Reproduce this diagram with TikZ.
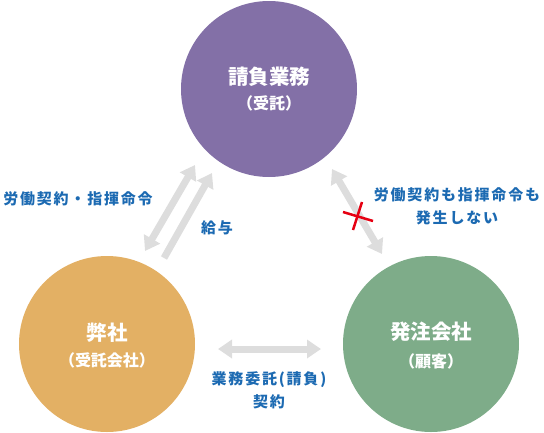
\documentclass[tikz,border=0pt]{standalone}
\usepackage{fontspec}
\setmainfont{Noto Sans CJK JP}
\usetikzlibrary{arrows.meta}
\definecolor{cpurple}{RGB}{131,112,167}
\definecolor{corange}{RGB}{227,176,100}
\definecolor{cgreen}{RGB}{126,172,137}
\definecolor{cblue}{RGB}{28,106,178}
\definecolor{cgray}{RGB}{221,221,221}
\definecolor{cred}{RGB}{230,0,18}
\begin{document}
\begin{tikzpicture}[x=1pt,y=-1pt,
  circ/.style={circle,inner sep=0pt,minimum size=176pt},
  ctitle/.style={text=white,inner sep=0pt,font=\fontsize{20.5}{20}\selectfont\bfseries},
  csub/.style={text=white,inner sep=0pt,font=\fontsize{16}{16}\selectfont\bfseries},
  lbl/.style={text=cblue,inner sep=0pt,align=center,font=\fontsize{15}{23}\selectfont\bfseries\addfontfeature{LetterSpace=12}},
  garrow/.style={draw=cgray,line width=7pt},
  dblarrow/.style={garrow,{Triangle[width=18pt,length=14pt]}-{Triangle[width=18pt,length=14pt]}},
  sglarrow/.style={garrow,-{Triangle[width=18pt,length=14pt]}},
  cross/.style={draw=cred,line width=2.5pt}
]
\useasboundingbox (0,0) rectangle (544,432);
% circles
\node[circ,fill=cpurple] (ukeoi) at (269,89) {};
\node[circ,fill=corange] (heisha) at (107,344) {};
\node[circ,fill=cgreen] (hatchu) at (431,344) {};
% circle texts
\node[ctitle] (ukeoiA) at (269,77) {請負業務};
\node[csub] (ukeoiB) at (269,103) {（受託）};
\node[ctitle] (heishaA) at (107,333) {弊社};
\node[csub] (heishaB) at (107,360) {（受託会社）};
\node[ctitle] (hatchuA) at (431,332) {発注会社};
\node[csub] (hatchuB) at (431,361) {（顧客）};
% arrow end points
\coordinate (a1t) at (195,165);
\coordinate (a1b) at (145,251);
\coordinate (a2t) at (212,173);
\coordinate (a2b) at (164,258);
\coordinate (a3t) at (332,169);
\coordinate (a3b) at (382,254);
\coordinate (a4l) at (218,349);
\coordinate (a4r) at (321,349);
\draw[dblarrow] (a1b) -- (a1t);
\draw[sglarrow] (a2b) -- (a2t);
\draw[dblarrow] (a3t) -- (a3b);
\draw[dblarrow] (a4l) -- (a4r);
% red cross
\coordinate (x1a) at (343,212);
\coordinate (x1b) at (373,221);
\coordinate (x2a) at (353,230);
\coordinate (x2b) at (362,202);
\draw[cross] (x1a) -- (x1b);
\draw[cross] (x2a) -- (x2b);
% labels
\node[lbl] (lblA) at (78,199) {労働契約・指揮命令};
\node[lbl] (lblB) at (217,228) {給与};
\node[lbl] (lblC) at (457,206) {労働契約も指揮命令も\\発生しない};
\node[lbl] (lblD) at (269,390) {業務委託(請負)\\契約};
\end{tikzpicture}
\end{document}
